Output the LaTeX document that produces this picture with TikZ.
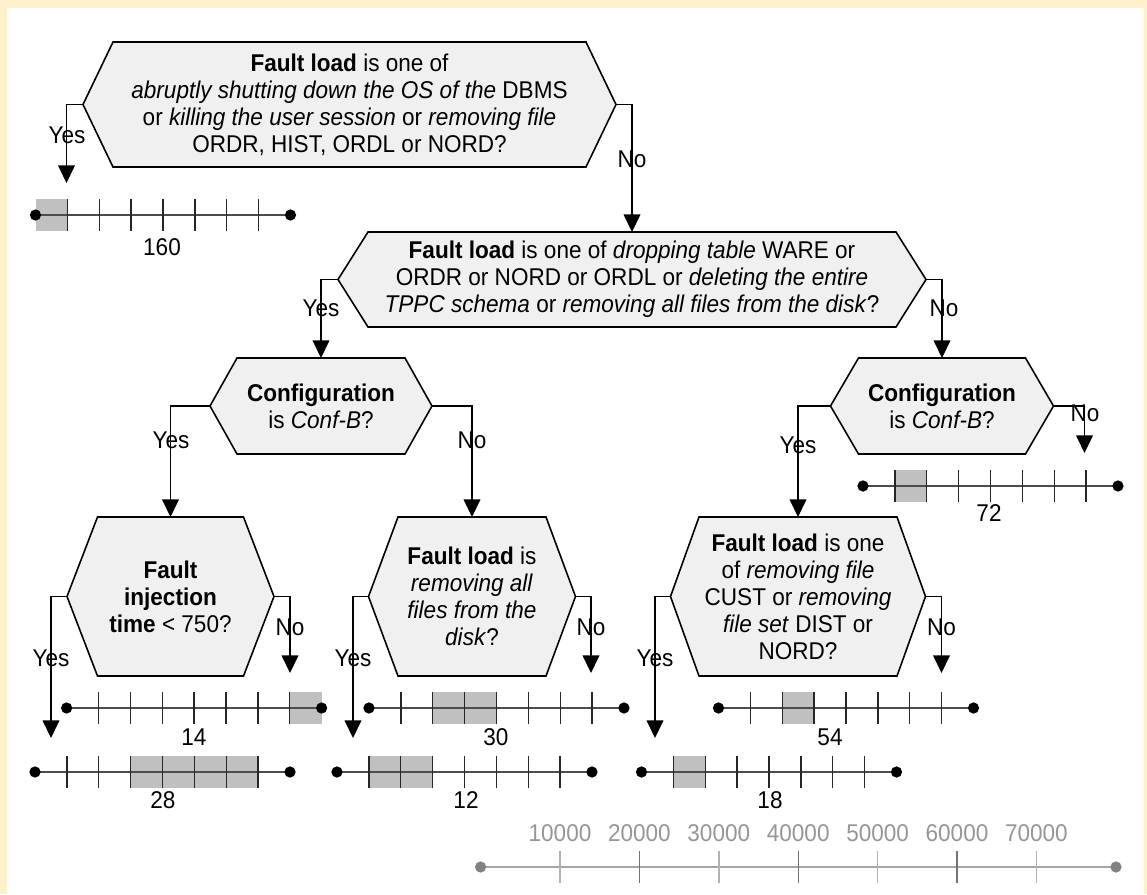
\documentclass[tikz,border=0pt]{standalone}
\usepackage{fontspec}
\setmainfont{Liberation Sans}[FakeStretch=0.93]
\usepackage{xcolor}
\usetikzlibrary{arrows.meta}

\definecolor{cream}{RGB}{255,240,204}
\definecolor{hexgray}{RGB}{240,240,240}
\definecolor{boxgray}{RGB}{192,192,192}
\definecolor{axisline}{RGB}{165,165,165}
\definecolor{axisdot}{RGB}{130,130,130}
\definecolor{axistext}{RGB}{150,150,150}

\newcommand{\qfont}{\fontsize{13.8}{15.4}\selectfont}
\newcommand{\seg}{31.875}

\tikzset{
  hexshape/.style={draw=black, line width=0.9pt, fill=hexgray},
  hextext/.style={align=center, font=\qfont, inner sep=0pt},
  flow/.style={line width=0.75pt, -{Triangle[width=9.5pt,length=10pt]}},
  answer/.style={font=\qfont, inner sep=0pt},
  barline/.style={line width=0.8pt, black!70},
  bartick/.style={line width=0.8pt, black!85},
}

% #1 name, #2 cx, #3 cy, #4 half width of top edge, #5 indent, #6 half height, #7 text
\newcommand{\decision}[7]{%
  \coordinate (#1-l) at ({#2-#4-#5},#3);
  \coordinate (#1-r) at ({#2+#4+#5},#3);
  \coordinate (#1-t) at (#2,{#3-#6});
  \draw[hexshape] ({#2-#4},{#3-#6}) -- ({#2+#4},{#3-#6}) -- (#1-r)
     -- ({#2+#4},{#3+#6}) -- ({#2-#4},{#3+#6}) -- (#1-l) -- cycle;
  \node[hextext] (#1) at (#2,#3) {#7};
}

% #1 left x, #2 y, #3/#4 grey segments, #5 label, #6/#7 label position
\newcommand{\timebar}[7]{%
  \fill[boxgray] ({#1+#3*\seg},{#2-16}) rectangle ({#1+#4*\seg},{#2+16});
  \draw[barline] (#1,#2) -- ({#1+8*\seg},#2);
  \foreach \k in {1,...,7} {
    \draw[bartick] ({#1+\k*\seg},{#2-16}) -- ({#1+\k*\seg},{#2+16});
  };
  \fill[black] (#1,#2) circle[radius=3.2pt];
  \fill[black] ({#1+8*\seg},#2) circle[radius=3.2pt];
  \node[answer] at (#6,#7) {#5};
}

\begin{document}
\begin{tikzpicture}[x=0.02cm,y=-0.02cm]

\fill[cream] (0,0) rectangle (1147,894);
\fill[white] (7,7.5) rectangle (1144,894);
\useasboundingbox (0,0) rectangle (1147,894);

% questions
\decision{q1}{349.5}{104.5}{236.5}{30}{62.5}{\textbf{Fault load} is one of\\
  \textit{abruptly shutting down the OS of the} DBMS\\
  or \textit{killing the user session} or \textit{removing file}\\
  ORDR, HIST, ORDL or NORD?}
\decision{q2}{632}{279.5}{264}{30}{47.5}{\textbf{Fault load} is one of \textit{dropping table} WARE or\\
  ORDR or NORD or ORDL or \textit{deleting the entire}\\
  \textit{TPPC schema} or \textit{removing all files from the disk}?}
\decision{q3}{321}{406}{84}{27}{48}{\textbf{Configuration}\\ is \textit{Conf-B}?}
\decision{q4}{942}{406}{83.5}{28}{48}{\textbf{Configuration}\\ is \textit{Conf-B}?}
\decision{q5}{170.5}{596.5}{73}{30.5}{79.5}{\textbf{Fault}\\ \textbf{injection}\\ \textbf{time} < 750?}
\decision{q6}{472}{596.5}{74}{29.5}{79.5}{\textbf{Fault load} is\\ \textit{removing all}\\
  \textit{files from the}\\ \textit{disk}?}
\decision{q7}{798}{596.5}{99}{28.5}{79.5}{\textbf{Fault load} is one\\ of \textit{removing file}\\
  CUST or \textit{removing}\\ \textit{file set} DIST or\\ NORD?}

% ends of the answers that point at a bar
\coordinate (e1) at (66.5,183);
\coordinate (e4) at (1084.5,453);
\coordinate (e5y) at (51,738);
\coordinate (e5n) at (290,673);
\coordinate (e6y) at (353,738);
\coordinate (e6n) at (591,673);
\coordinate (e7y) at (655,738);
\coordinate (e7n) at (941.5,673);

\draw[flow] (q1-l) -| (e1);
\draw[flow] (q1-r) -| (q2-t);
\draw[flow] (q2-l) -| (q3-t);
\draw[flow] (q2-r) -| (q4-t);
\draw[flow] (q3-l) -| (q5-t);
\draw[flow] (q3-r) -| (q6-t);
\draw[flow] (q4-l) -| (q7-t);
\draw[flow] (q4-r) -| (e4);
\draw[flow] (q5-l) -| (e5y);
\draw[flow] (q5-r) -| (e5n);
\draw[flow] (q6-l) -| (e6y);
\draw[flow] (q6-r) -| (e6n);
\draw[flow] (q7-l) -| (e7y);
\draw[flow] (q7-r) -| (e7n);

\node[answer] (yes1) at (67,135) {Yes};
\node[answer] (no1) at (632,159) {No};
\node[answer] (yes2) at (321,308) {Yes};
\node[answer] (no2) at (944,308) {No};
\node[answer] (yes3) at (171,440) {Yes};
\node[answer] (no3) at (472,440) {No};
\node[answer] (yes4) at (798,445) {Yes};
\node[answer] (no4) at (1085,413) {No};
\node[answer] (yes5) at (51,658) {Yes};
\node[answer] (no5) at (290,627) {No};
\node[answer] (yes6) at (353,658) {Yes};
\node[answer] (no6) at (591,627) {No};
\node[answer] (yes7) at (655,658) {Yes};
\node[answer] (no7) at (941.5,627) {No};

% bars
\timebar{35.5}{215}{0}{1}{160}{162}{247}
\timebar{863}{486}{1}{2}{72}{989}{513}
\timebar{66.6}{708}{7}{8}{14}{194}{737}
\timebar{369}{708}{2}{4}{30}{496}{737}
\timebar{718.5}{708}{2}{3}{54}{830}{737}
\timebar{35}{772}{3}{7}{28}{163}{800}
\timebar{337}{772}{1}{3}{12}{466}{800}
\timebar{641.5}{772}{1}{2}{18}{770}{800}

% scale
\draw[axisline, line width=0.9pt] (480.6,867) -- (1116,867);
\foreach \i in {1,...,7} {
    \pgfmathsetmacro{\x}{480.6+\i*79.4}
    \pgfmathtruncatemacro{\odd}{mod(\i,2)}
    \ifnum\odd=1
      \draw[black!30, line width=0.8pt] (\x,851) -- (\x,883);
    \else
      \draw[black!55, line width=0.8pt] (\x,851) -- (\x,883);
    \fi
    \node[answer, text=axistext] at (\x,833) {\i0000};
};
\fill[axisdot] (480.6,867) circle[radius=3.2pt];
\fill[axisdot] (1116,867) circle[radius=3.2pt];

\end{tikzpicture}
\end{document}
